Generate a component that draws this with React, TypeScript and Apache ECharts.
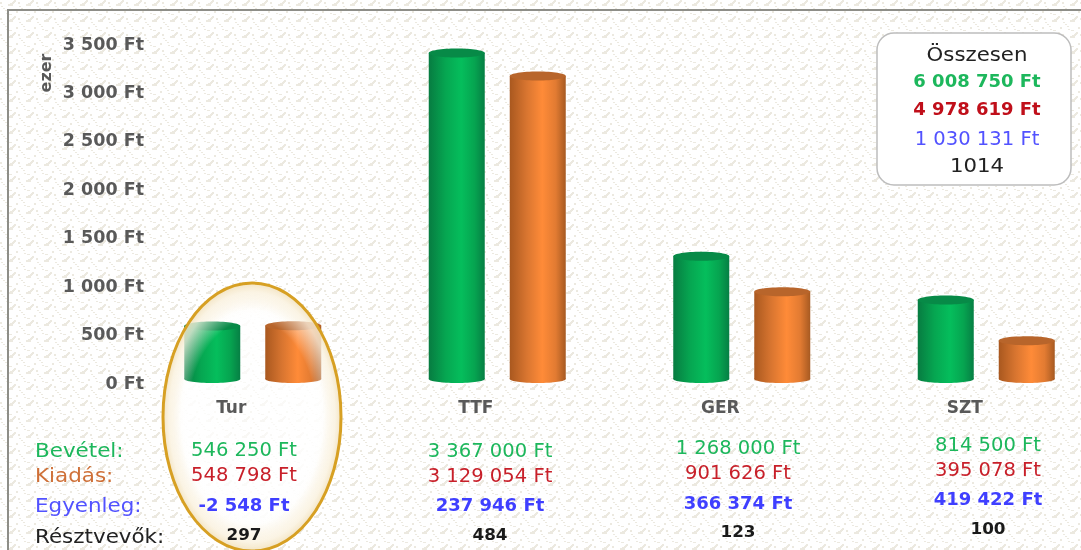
import React, { useEffect, useRef } from "react";
import * as echarts from "echarts";

const categories = ["Tur", "TTF", "GER", "SZT"];
const income = [546.25, 3367, 1268, 814.5];
const expense = [548.798, 3129.054, 901.626, 395.078];
const incomeText = ["546 250 Ft", "3 367 000 Ft", "1 268 000 Ft", "814 500 Ft"];
const expenseText = ["548 798 Ft", "3 129 054 Ft", "901 626 Ft", "395 078 Ft"];
const balanceText = ["-2 548 Ft", "237 946 Ft", "366 374 Ft", "419 422 Ft"];
const participants = ["297", "484", "123", "100"];
const rowLabels = ["Bevétel:", "Kiadás:", "Egyenleg:", "Résztvevők:"];
const totals = ["Összesen", "6 008 750 Ft", "4 978 619 Ft", "1 030 131 Ft", "1014"];

const FONT = "'DejaVu Sans'";
const tile =
  "<svg xmlns='http://www.w3.org/2000/svg' width='18' height='16' shape-rendering='crispEdges'><g fill='#ECE9E0'>" +
  "<rect x='14' y='0' width='2' height='1'/><rect x='13' y='1' width='3' height='1'/><rect x='12' y='2' width='3' height='1'/><rect x='10' y='3' width='4' height='1'/><rect x='8' y='4' width='5' height='2'/>" +
  "<rect x='1' y='6' width='2' height='1'/><rect x='3' y='8' width='2' height='1'/><rect x='5' y='10' width='2' height='1'/><rect x='0' y='2' width='2' height='2'/><rect x='16' y='11' width='2' height='2'/><rect x='6' y='13' width='2' height='1'/><rect x='9' y='14' width='3' height='1'/>" +
  "</g></svg>";

const cylinder = (dx: number, stops: string[], cap: string) => (params: any, api: any) => {
  const top = api.coord([api.value(0), api.value(1)]);
  const base = api.coord([api.value(0), 0]);
  const w = 56;
  const x = top[0] + dx - w / 2;
  const fill = new echarts.graphic.LinearGradient(
    0, 0, 1, 0,
    stops.map((color, i) => ({ offset: [0, 0.3, 0.58, 0.82, 1][i], color }))
  );
  return {
    type: "group",
    children: [
      { type: "ellipse", shape: { cx: x + w / 2, cy: base[1], rx: w / 2, ry: 4 }, style: { fill } },
      { type: "rect", shape: { x, y: top[1], width: w, height: base[1] - top[1] }, style: { fill } },
      { type: "ellipse", shape: { cx: x + w / 2, cy: top[1], rx: w / 2, ry: 4.5 }, style: { fill: cap } },
    ],
  };
};

const colX = [244, 490, 738, 988];
const rowYs = [
  [450, 475, 504, 535],
  [451, 476, 504, 535],
  [448, 473, 502, 532],
  [445, 470, 498, 529],
];

export default function App() {
  const ref = useRef<HTMLDivElement>(null);
  useEffect(() => {
    document.body.style.margin = "0";
    const chart = echarts.init(ref.current!, undefined, { renderer: "svg" });

    const t = (text: string, x: number, y: number, fill: string, size: number, weight: any, scaleX: number, align = "center") => ({
      type: "text",
      x,
      y,
      scaleX,
      z: 30,
      style: { text, fill, font: `${weight} ${size}px ${FONT}`, textAlign: align, textVerticalAlign: "middle" },
    });

    const rowColors = ["#1DB75C", "#CF7038", "#5252FF", "#222222"];
    const rowLabelY = [450, 475, 505, 536];
    const valueColors = ["#1DB75C", "#C8202A", "#3F3FFF", "#1A1A1A"];
    const table: any[] = [];
    rowLabels.forEach((s, i) => table.push(t(s, 35, rowLabelY[i], rowColors[i], 19.5, "normal", 1.1, "left")));
    [incomeText, expenseText, balanceText, participants].forEach((col, r) =>
      col.forEach((s, c) => table.push(t(s, colX[c], rowYs[c][r], valueColors[r], r === 3 ? 16.5 : r === 2 ? 18 : 19, r >= 2 ? "bold" : "normal", r === 2 ? 1.0 : r === 3 ? 1.02 : 1.03)))
    );
    const totalY = [54, 80, 108, 139, 165];
    const totalColors = ["#222222", "#1DB75C", "#C00F1A", "#5252FF", "#222222"];
    totals.forEach((s, i) => table.push(t(s, 977, totalY[i], totalColors[i], i === 0 || i === 4 ? 19 : i === 3 ? 19 : 18, i === 1 || i === 2 ? "bold" : "normal", i === 1 || i === 2 ? 1.0 : i === 3 ? 1.03 : 1.12)));

    chart.setOption({
      animation: false,
      backgroundColor: "transparent",
      grid: { left: 131, width: 978, top: 40, height: 339, outerBoundsMode: "none" },
      xAxis: {
        type: "category",
        data: categories,
        z: 20,
        axisLine: { show: false },
        axisTick: { show: false },
        axisLabel: { color: "#595959", fontFamily: FONT, fontWeight: "bold", fontSize: 17, margin: 19, padding: [0, 44, 0, 0], interval: 0 },
      },
      yAxis: {
        type: "value",
        min: 0,
        max: 3500,
        interval: 500,
        splitLine: { show: false },
        axisLine: { show: false },
        axisTick: { show: false },
        axisLabel: {
          color: "#595959",
          fontFamily: FONT,
          fontWeight: "bold",
          fontSize: 17.5,
          margin: -13,
          verticalAlign: "top",
          lineHeight: 7,
          formatter: (v: number) => `${String(v).replace(/\B(?=(\d{3})+$)/g, " ")} Ft`,
        },
      },
      series: [
        {
          type: "custom",
          name: "Bevétel",
          clip: false,
          z: 4,
          data: income.map((v, i) => [i, v]),
          encode: { x: 0, y: 1 },
          renderItem: cylinder(-41, ["#077C41", "#06A651", "#05BE5C", "#06A450", "#067F44"], "#078A47"),
        },
        {
          type: "custom",
          name: "Kiadás",
          clip: false,
          z: 4,
          data: expense.map((v, i) => [i, v]),
          encode: { x: 0, y: 1 },
          renderItem: cylinder(40, ["#A9581F", "#D87530", "#FF8B38", "#E27B32", "#A75A22"], "#B8652B"),
        },
      ],
      graphic: [
        { type: "line", z: 5, shape: { x1: 8, y1: 10, x2: 1081, y2: 10 }, style: { stroke: "#8E8E88", lineWidth: 2 } },
        { type: "line", z: 5, shape: { x1: 8, y1: 9, x2: 8, y2: 550 }, style: { stroke: "#8E8E88", lineWidth: 2 } },
        {
          type: "text", x: 45, y: 73, rotation: Math.PI / 2, z: 30,
          style: { text: "ezer", fill: "#595959", font: `bold 16px ${FONT}`, textAlign: "center", textVerticalAlign: "middle" },
        },
        {
          type: "rect", z: 6,
          shape: { x: 877, y: 33, width: 194, height: 152, r: 17 },
          style: { fill: "#FFFFFF", stroke: "#BDBDBD", lineWidth: 1.5 },
        },
        {
          type: "ellipse", z: 1,
          shape: { cx: 252, cy: 417, rx: 89, ry: 134 },
          style: {
            fill: new echarts.graphic.RadialGradient(0.5, 0.5, 0.5, [
              { offset: 0, color: "rgba(255,255,255,0.6)" },
              { offset: 0.8, color: "rgba(255,255,255,0.9)" },
              { offset: 1, color: "rgba(243,228,195,0.95)" },
            ]),
          },
        },
        {
          type: "ellipse", z: 15,
          shape: { cx: 252, cy: 417, rx: 89, ry: 134 },
          style: {
            lineWidth: 3,
            stroke: "#D7A023",
            fill: new echarts.graphic.RadialGradient(0.5, 0.5, 0.5, [
              { offset: 0, color: "rgba(255,255,255,0)" },
              { offset: 0.72, color: "rgba(255,255,255,0)" },
              { offset: 0.93, color: "rgba(252,246,232,0.75)" },
              { offset: 1, color: "rgba(243,228,195,0.9)" },
            ]),
          },
        },
        ...table,
      ],
    });
    return () => chart.dispose();
  }, []);
  return (
    <div style={{ width: 1081, height: 550, background: `#fff url("data:image/svg+xml,${encodeURIComponent(tile)}")`, overflow: "hidden" }}>
      <div ref={ref} style={{ width: 1081, height: 550, filter: "blur(0.45px)" }} />
    </div>
  );
}
